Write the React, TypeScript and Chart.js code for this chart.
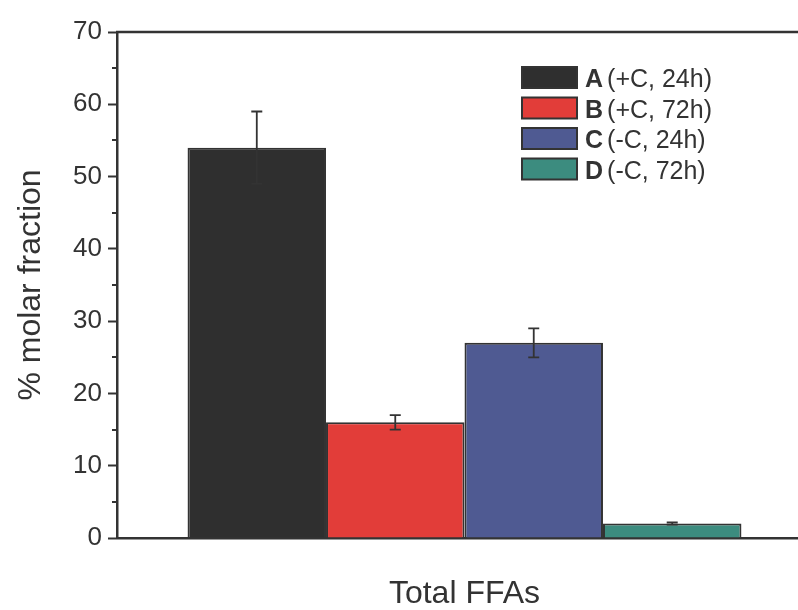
import React, { useEffect, useRef } from "react";
import { Chart, registerables } from "chart.js";

Chart.register(...registerables);

const categories = ["Total FFAs"];
const seriesLetters = ["A", "B", "C", "D"];
const seriesConditions = ["(+C, 24h)", "(+C, 72h)", "(-C, 24h)", "(-C, 72h)"];
const seriesValues = [54, 16, 27, 2];
const seriesErrors = [5, 1, 2, 0.15];
const seriesColors = ["#2f2f2f", "#e23d39", "#4f5a92", "#3c8c7f"];
const yTicks = [0, 10, 20, 30, 40, 50, 60, 70];
const yMinorTicks = [5, 15, 25, 35, 45, 55, 65];

const INK = "#333333";
const FONT = "'Liberation Sans', Arial, Helvetica, sans-serif";

const decorPlugin = {
  id: "decor",
  afterDatasetsDraw(chart: any) {
    const { ctx, chartArea, scales } = chart;
    const y = scales.y;
    ctx.save();
    // top frame line
    ctx.strokeStyle = INK;
    ctx.lineWidth = 2.5;
    ctx.beginPath();
    ctx.moveTo(chartArea.left - 1, chartArea.top);
    ctx.lineTo(chartArea.right, chartArea.top);
    ctx.stroke();
    // minor ticks
    ctx.lineWidth = 2;
    yMinorTicks.forEach((v) => {
      const py = Math.round(y.getPixelForValue(v));
      ctx.beginPath();
      ctx.moveTo(chartArea.left - 5, py);
      ctx.lineTo(chartArea.left, py);
      ctx.stroke();
    });
    // error bars
    chart.data.datasets.forEach((ds: any, i: number) => {
      const meta = chart.getDatasetMeta(i);
      const bar = meta.data[0];
      if (!bar) return;
      const err = seriesErrors[i];
      const v = seriesValues[i];
      const x = bar.x;
      const yTop = y.getPixelForValue(v + err);
      const yBot = y.getPixelForValue(v - err);
      ctx.strokeStyle = INK;
      ctx.lineWidth = 1.8;
      ctx.beginPath();
      ctx.moveTo(x, yTop);
      ctx.lineTo(x, yBot);
      ctx.moveTo(x - 5.5, yTop);
      ctx.lineTo(x + 5.5, yTop);
      ctx.moveTo(x - 5.5, yBot);
      ctx.lineTo(x + 5.5, yBot);
      ctx.stroke();
    });
    // legend
    const lx = 522;
    const ly = 67;
    const rowH = 30.5;
    chart.data.datasets.forEach((ds: any, i: number) => {
      const top = ly + i * rowH;
      ctx.fillStyle = seriesColors[i];
      ctx.fillRect(lx, top, 55, 21);
      ctx.strokeStyle = INK;
      ctx.lineWidth = 2;
      ctx.strokeRect(lx, top, 55, 21);
      ctx.fillStyle = INK;
      ctx.textBaseline = "alphabetic";
      ctx.textAlign = "left";
      ctx.font = `bold 25px ${FONT}`;
      const baseY = top + 20;
      ctx.fillText(seriesLetters[i], 585, baseY);
      const w = ctx.measureText(seriesLetters[i]).width;
      ctx.font = `25px ${FONT}`;
      ctx.fillText(seriesConditions[i], 585 + w + 4, baseY);
    });
    ctx.restore();
  },
};

export default function App() {
  const ref = useRef<HTMLCanvasElement | null>(null);
  useEffect(() => {
    if (!ref.current) return;
    const chart = new Chart(ref.current, {
      type: "bar",
      data: {
        labels: categories,
        datasets: seriesLetters.map((l, i) => ({
          label: `${l} ${seriesConditions[i]}`,
          data: [seriesValues[i]],
          backgroundColor: seriesColors[i],
          borderColor: INK,
          borderWidth: 2,
          borderSkipped: "start",
          categoryPercentage: 0.797,
          barPercentage: 1,
        })),
      },
      options: {
        responsive: false,
        animation: false,
        devicePixelRatio: 1,
        layout: { padding: { top: 32, right: 0, left: 0, bottom: 0 } },
        plugins: {
          legend: { display: false },
          tooltip: { enabled: false },
          title: { display: false },
        },
        scales: {
          x: {
            type: "category",
            grid: { display: false },
            border: { display: true, color: INK, width: 2.5 },
            ticks: { display: false },
            title: {
              display: true,
              text: categories[0],
              color: INK,
              font: { family: FONT, size: 32, lineHeight: 1 },
              padding: 0,
            },
            afterFit: (s: any) => {
              s.height = 72;
            },
          },
          y: {
            min: 0,
            max: 70,
            afterBuildTicks: (s: any) => {
              s.ticks = yTicks.map((v) => ({ value: v }));
            },
            grid: {
              drawOnChartArea: false,
              drawTicks: true,
              tickLength: 9,
              tickColor: INK,
              tickWidth: 2,
            },
            border: { display: true, color: INK, width: 2.5 },
            ticks: {
              color: INK,
              padding: 6,
              font: { family: FONT, size: 26 },
            },
            title: {
              display: true,
              text: "% molar fraction",
              color: INK,
              font: { family: FONT, size: 32, lineHeight: 1 },
              padding: { top: 15, bottom: 0 },
            },
            afterFit: (s: any) => {
              s.width = 117;
            },
          },
        },
      },
      plugins: [decorPlugin],
    } as any);
    return () => chart.destroy();
  }, []);
  return (
    <div
      style={{
        position: "fixed",
        left: 0,
        top: 0,
        width: 812,
        height: 610,
        background: "#ffffff",
      }}
    >
      <canvas ref={ref} width={812} height={610} style={{ width: 812, height: 610, display: "block" }} />
    </div>
  );
}
